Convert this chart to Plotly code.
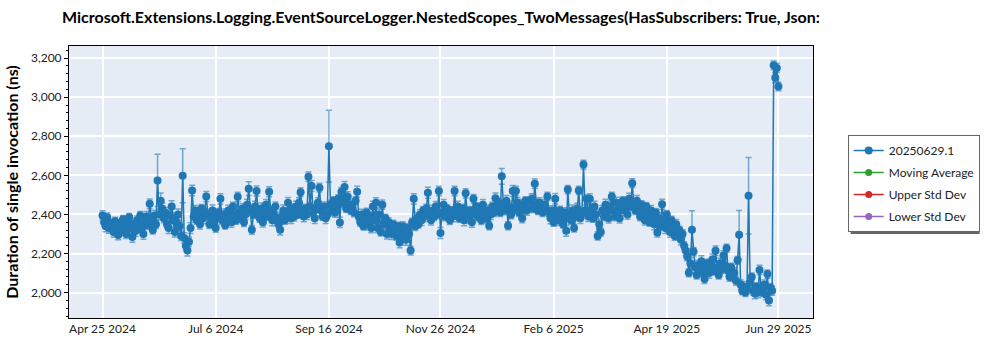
import pandas as pd
import plotly.graph_objects as go

# ---------------- data ----------------
start_date = "2024-04-25"
end_date = "2025-06-29"

apr24 = [2395, 2360, 2340, 2385, 2330, 2355]
may24 = [2340, 2310, 2365, 2330, 2295, 2350, 2320, 2375, 2340, 2300, 2360, 2385, 2330, 2285, 2350, 2315,
         2370, 2340, 2395, 2330, 2300, 2360, 2390, 2345, 2455, 2370, 2320, 2395, 2350, 2574, 2400]
jun24 = [2470, 2430, 2380, 2410, 2350, 2330, 2395, 2440, 2370, 2310, 2360, 2400, 2340, 2290, 2598, 2280,
         2240, 2215, 2260, 2330, 2523, 2390, 2420, 2370, 2400, 2350, 2430, 2380, 2410, 2492]
jul24 = [2400, 2350, 2380, 2420, 2360, 2330, 2390, 2410, 2480, 2370, 2400, 2345, 2380, 2420, 2390, 2360,
         2440, 2400, 2370, 2490, 2410, 2380, 2430, 2360, 2400, 2450, 2532, 2420, 2321, 2400, 2440]
aug24 = [2520, 2410, 2380, 2430, 2360, 2400, 2450, 2390, 2516, 2420, 2370, 2400, 2440, 2380, 2350, 2321,
         2390, 2420, 2370, 2400, 2460, 2410, 2380, 2430, 2390, 2440, 2400, 2460, 2514, 2420, 2390]
sep24 = [2430, 2400, 2593, 2440, 2546, 2410, 2380, 2430, 2460, 2537, 2420, 2390, 2440, 2380, 2400, 2749,
         2450, 2420, 2470, 2410, 2440, 2480, 2359, 2516, 2460, 2541, 2430, 2490, 2450, 2420]
oct24 = [2440, 2410, 2470, 2516, 2390, 2360, 2400, 2340, 2380, 2410, 2350, 2390, 2330, 2440, 2370, 2460,
         2330, 2400, 2310, 2450, 2350, 2380, 2300, 2360, 2330, 2300, 2350, 2320, 2290, 2340, 2256]
nov24 = [2310, 2340, 2290, 2270, 2330, 2300, 2215, 2360, 2480, 2340, 2380, 2350, 2400, 2370, 2420, 2390,
         2430, 2511, 2400, 2370, 2420, 2390, 2440, 2400, 2520, 2305, 2410, 2450, 2390, 2430]
dec24 = [2400, 2370, 2420, 2390, 2520, 2410, 2440, 2380, 2400, 2430, 2370, 2508, 2410, 2380, 2420, 2360,
         2480, 2400, 2440, 2390, 2420, 2370, 2450, 2400, 2380, 2420, 2342, 2400, 2440, 2410, 2483]
jan25 = [2430, 2460, 2410, 2595, 2450, 2420, 2470, 2342, 2440, 2400, 2520, 2430, 2520, 2460, 2410, 2450,
         2380, 2430, 2470, 2420, 2460, 2440, 2480, 2430, 2557, 2450, 2420, 2460, 2440, 2410, 2450]
feb25 = [2430, 2492, 2410, 2380, 2420, 2360, 2480, 2400, 2370, 2420, 2390, 2350, 2410, 2316, 2527, 2400,
         2370, 2420, 2330, 2390, 2430, 2523, 2380, 2410, 2655, 2420, 2480, 2390]
mar25 = [2480, 2420, 2380, 2440, 2400, 2290, 2350, 2310, 2420, 2390, 2450, 2410, 2380, 2440, 2492, 2420,
         2390, 2460, 2410, 2380, 2440, 2470, 2420, 2450, 2400, 2480, 2440, 2560, 2450, 2420, 2470]
apr25 = [2430, 2390, 2450, 2410, 2370, 2440, 2400, 2360, 2420, 2390, 2350, 2410, 2308, 2380, 2340, 2452,
         2370, 2330, 2400, 2350, 2310, 2370, 2330, 2290, 2350, 2300, 2320, 2270, 2300, 2240]
may25 = [2216, 2185, 2101, 2150, 2321, 2210, 2130, 2090, 2140, 2110, 2160, 2100, 2070, 2130, 2150, 2100,
         2120, 2170, 2110, 2214, 2130, 2090, 2150, 2120, 2190, 2140, 2227, 2110, 2080, 2130, 2090]
jun25 = [2100, 2060, 2165, 2296, 2040, 2010, 2030, 2000, 2020, 2496, 2050, 2080, 2010, 1995, 2030, 2000,
         2116, 2020, 2000, 2040, 1990, 2095, 1959, 2025, 2010, 3163, 3100, 3150, 3055]

# standard deviation (symmetric error bar) per point
err_apr24 = [24, 20, 28, 22, 26, 21]
err_may24 = [22, 26, 20, 28, 24, 21, 27, 20, 25, 23, 28, 20, 24, 27, 21, 26, 22, 28, 20, 24, 27, 21, 25, 22,
             24, 28, 20, 26, 22, 134, 28]
err_jun24 = [40, 28, 22, 25, 20, 28, 24, 30, 21, 26, 22, 28, 20, 24, 138, 26, 22, 28, 24, 27, 27, 22, 26, 20,
             28, 24, 21, 27, 22, 26]
err_jul24 = [26, 22, 20, 28, 24, 21, 27, 20, 26, 22, 28, 20, 24, 27, 21, 26, 22, 28, 20, 24, 27, 21, 26, 22,
             24, 28, 35, 26, 22, 20, 27]
err_aug24 = [26, 22, 20, 28, 24, 21, 27, 20, 26, 22, 28, 20, 24, 27, 21, 26, 22, 28, 20, 24, 27, 21, 26, 22,
             24, 28, 20, 26, 22, 20, 27]
err_sep24 = [22, 26, 24, 24, 28, 21, 27, 20, 26, 22, 28, 20, 24, 27, 21, 184, 22, 28, 20, 24, 27, 21, 26, 22,
             24, 28, 20, 26, 22, 20]
err_oct24 = [26, 22, 20, 28, 24, 21, 27, 20, 26, 22, 28, 20, 24, 27, 21, 26, 22, 28, 20, 24, 27, 21, 26, 22,
             24, 28, 20, 26, 22, 20, 27]
err_nov24 = [26, 22, 20, 28, 24, 21, 22, 20, 26, 22, 28, 20, 24, 27, 21, 26, 22, 28, 20, 24, 27, 21, 26, 22,
             24, 28, 20, 26, 22, 20]
err_dec24 = [26, 22, 20, 28, 24, 21, 27, 20, 26, 22, 28, 24, 24, 27, 21, 26, 22, 28, 20, 24, 27, 21, 26, 22,
             24, 28, 20, 26, 22, 20, 27]
err_jan25 = [26, 22, 20, 40, 24, 21, 27, 20, 26, 22, 28, 20, 24, 27, 21, 26, 22, 28, 20, 24, 27, 21, 26, 22,
             24, 28, 20, 26, 22, 20, 27]
err_feb25 = [26, 22, 20, 28, 24, 21, 27, 20, 26, 22, 28, 20, 24, 27, 21, 26, 22, 28, 20, 24, 27, 21, 26, 22,
             22, 28, 20, 26]
err_mar25 = [26, 22, 20, 28, 24, 21, 27, 20, 26, 22, 28, 20, 24, 27, 21, 26, 22, 28, 20, 24, 27, 21, 26, 22,
             24, 28, 20, 22, 22, 20, 27]
err_apr25 = [26, 22, 20, 28, 24, 21, 27, 20, 26, 22, 28, 20, 24, 27, 21, 26, 22, 28, 20, 24, 27, 21, 26, 22,
             24, 28, 20, 26, 22, 20]
err_may25 = [26, 22, 20, 28, 98, 21, 27, 20, 26, 22, 28, 20, 24, 27, 21, 26, 22, 28, 20, 24, 27, 21, 26, 22,
             24, 28, 20, 26, 22, 20, 27]
err_jun25 = [26, 22, 20, 124, 24, 21, 27, 20, 26, 196, 28, 20, 24, 27, 21, 26, 24, 28, 20, 24, 27, 21, 26, 22,
             24, 22, 26, 24, 22]

tick_dates = ["2024-04-25", "2024-07-06", "2024-09-16", "2024-11-26",
              "2025-02-06", "2025-04-19", "2025-06-29"]
tick_labels = ["Apr 25 2024", "Jul 6 2024", "Sep 16 2024", "Nov 26 2024",
               "Feb 6 2025", "Apr 19 2025", "Jun 29 2025"]

series_name = "20250629.1"
legend_names = ["Moving Average", "Upper Std Dev", "Lower Std Dev"]
legend_colors = ["#2ca02c", "#d62728", "#9467bd"]

# ---------------- assemble ----------------
values = (apr24 + may24 + jun24 + jul24 + aug24 + sep24 + oct24 + nov24 + dec24
          + jan25 + feb25 + mar25 + apr25 + may25 + jun25)
errors = (err_apr24 + err_may24 + err_jun24 + err_jul24 + err_aug24 + err_sep24 + err_oct24
          + err_nov24 + err_dec24 + err_jan25 + err_feb25 + err_mar25 + err_apr25 + err_may25 + err_jun25)
dates = pd.date_range(start_date, end_date, freq="D")
assert len(values) == len(dates) == len(errors)

BLUE = "#1f77b4"
FONT = "Segoe UI, Lato, Open Sans, sans-serif"

fig = go.Figure()
fig.add_trace(go.Scatter(
    x=dates, y=values, name=series_name, mode="lines+markers", legendgroup="g0",
    line=dict(color=BLUE, width=1.5),
    marker=dict(color=BLUE, size=8),
    error_y=dict(type="data", array=errors, visible=True,
                 color="rgba(31,119,180,0.6)", thickness=1.5, width=3),
))
for i, (nm, col) in enumerate(zip(legend_names, legend_colors)):
    fig.add_trace(go.Scatter(x=[None], y=[None], name=nm, mode="lines+markers", legendgroup=f"g{i+1}",
                             line=dict(color=col, width=1.5), marker=dict(color=col, size=7)))

L, R, T, B = 63, 187, 46, 32
PW, PH = 1000 - L - R, 350 - T - B

def px_x(p):
    return (p - L) / PW

def px_y(p):
    return (350 - B - p) / PH

fig.update_layout(
    width=1000, height=350,
    margin=dict(l=L, r=R, t=T, b=B),
    paper_bgcolor="white",
    plot_bgcolor="#E5ECF6",
    font=dict(family=FONT, size=12, color="#222"),
    title=dict(
        text="<b>Microsoft.Extensions.Logging.EventSourceLogger.NestedScopes_TwoMessages(HasSubscribers: True, Json:</b>",
        x=0.062, xanchor="left", xref="container",
        y=1 - 17 / 350, yanchor="middle", yref="container",
        font=dict(size=16, color="black", family=FONT),
    ),
    showlegend=True,
    legend=dict(
        x=px_x(848), y=px_y(135), xanchor="left", yanchor="top",
        bgcolor="white", bordercolor="#666", borderwidth=1,
        traceorder="grouped", tracegroupgap=3,
        font=dict(size=12, color="#222", family=FONT),
    ),
    xaxis=dict(
        type="date",
        range=["2024-04-03 16:00", "2025-07-21"],
        tickvals=tick_dates, ticktext=tick_labels,
        showgrid=True, gridcolor="white", gridwidth=1.5,
        showline=True, linecolor="black", linewidth=1, mirror=True,
        ticks="", zeroline=False,
        tickfont=dict(size=12, color="#222"),
    ),
    yaxis=dict(
        range=[1870, 3262],
        dtick=200, tick0=0, tickformat=",",
        showgrid=True, gridcolor="white", gridwidth=1.5,
        showline=True, linecolor="black", linewidth=1, mirror=True,
        ticks="outside", ticklen=4, tickcolor="black",
        minor=dict(ticks="outside", dtick=40, ticklen=2, tickcolor="black", showgrid=False),
        zeroline=False,
        tickfont=dict(size=12, color="#222"),
        title=dict(text="<b>Duration of single invocation (ns)</b>",
                   font=dict(size=16, color="black", family=FONT), standoff=8),
    ),
)

# legend drop shadow
fig.add_shape(type="rect", xref="paper", yref="paper",
              x0=px_x(851), x1=px_x(981), y0=px_y(234), y1=px_y(138),
              fillcolor="#666", line=dict(width=0), layer="above")

fig.write_html("out.html")
